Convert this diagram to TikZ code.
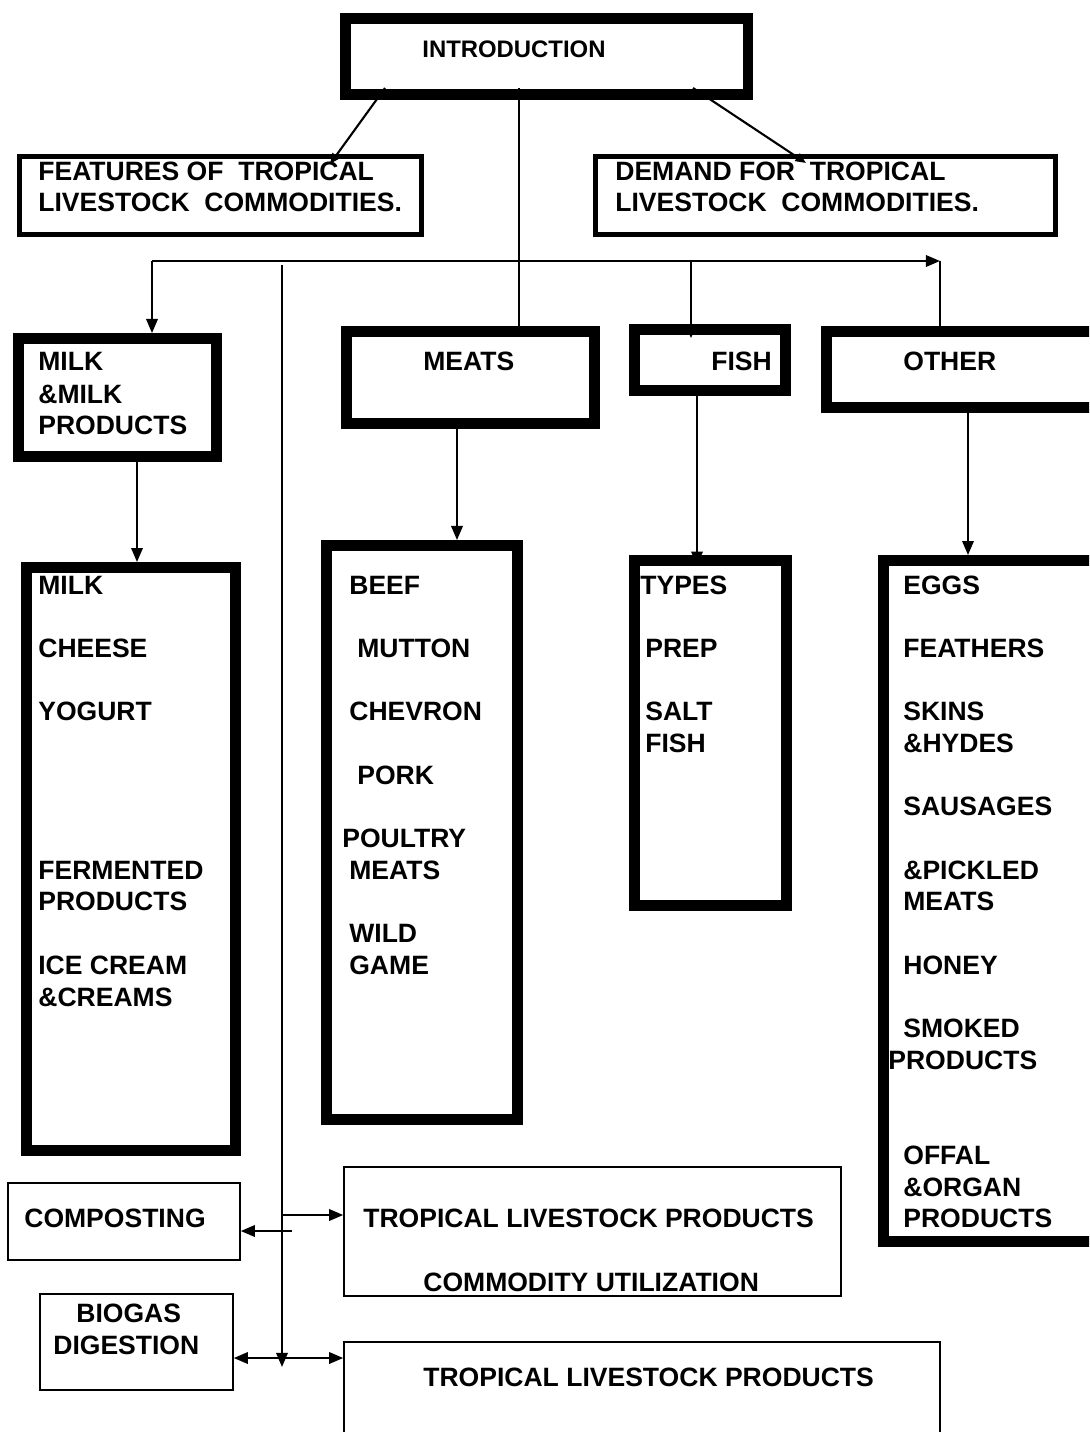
\documentclass[tikz,border=0pt]{standalone}
\usepackage{fontspec}
\setmainfont{Liberation Sans}
\usetikzlibrary{arrows.meta,fit}

\tikzset{
  thickbox/.style={draw, line width=6.2pt, inner sep=0pt},
  midbox/.style={draw, line width=2.8pt, inner sep=0pt},
  thinbox/.style={draw, line width=0.9pt, inner sep=0pt},
  txt/.style={anchor=base west, inner sep=0pt, font=\bfseries\fontsize{15.1}{18}\selectfont},
  link/.style={line width=1.2pt},
}

\begin{document}
\begin{tikzpicture}[x=0.02cm, y=-0.02cm, >={Triangle[length=8pt,width=6.5pt]}]
\useasboundingbox (0,0) rectangle (1089,1432);
\clip (0,0) rectangle (1089,1432);

% boxes
\node (intro)     [thickbox, fit={(345.5,18.5) (748,94.5)}] {};
\node (feat)      [midbox,   fit={(19.5,156.5) (421.5,234.5)}] {};
\node (demand)    [midbox,   fit={(595.5,156.5) (1055.5,234.5)}] {};
\node (milk)      [thickbox, fit={(18.5,338.5) (216.5,456.5)}] {};
\node (meats)     [thickbox, fit={(346.5,331.5) (594.5,423.5)}] {};
\node (fish)      [thickbox, fit={(634.5,329.5) (785.5,390.5)}] {};
\node (other)     [thickbox, fit={(826.5,331.5) (1110,407.5)}] {};
\node (milklist)  [thickbox, fit={(26.5,567.5) (235.5,1150.5)}] {};
\node (meatslist) [thickbox, fit={(326.5,545.5) (517.5,1119.5)}] {};
\node (fishlist)  [thickbox, fit={(634.5,560.5) (786.5,905.5)}] {};
\node (otherlist) [thickbox, fit={(883.5,560.5) (1110,1241.5)}] {};
\node (compost)   [thinbox,  fit={(8,1183) (240,1260)}] {};
\node (tlpcu)     [thinbox,  fit={(344,1167) (841,1296)}] {};
\node (biogas)    [thinbox,  fit={(40,1294) (233,1390)}] {};
\node (tlp)       [thinbox,  fit={(344,1342) (940,1450)}] {};

% texts
\node (t-intro) at (422,58) [txt, font=\bfseries\fontsize{13.6}{16}\selectfont] {INTRODUCTION};
\node (t-feat1) at (38,181) [txt] {FEATURES OF~ TROPICAL};
\node (t-feat2) at (38,212) [txt] {LIVESTOCK~ COMMODITIES.};
\node (t-dem1) at (615,181) [txt] {DEMAND FOR~ TROPICAL};
\node (t-dem2) at (615,212) [txt] {LIVESTOCK~ COMMODITIES.};
\node (t-milk1) at (38,371) [txt] {MILK};
\node (t-milk2) at (38,403) [txt] {\&MILK};
\node (t-milk3) at (38,435) [txt] {PRODUCTS};
\node (t-meats) at (423,371) [txt] {MEATS};
\node (t-fish) at (711,371) [txt] {FISH};
\node (t-other) at (903,371) [txt] {OTHER};

\foreach \x/\y/\t [count=\i] in {38/594/MILK, 38/657/CHEESE, 38/720/YOGURT,
    38/879/FERMENTED, 38/910/PRODUCTS, 38/974/ICE CREAM, 38/1006/\&CREAMS}
  \node (ml\i) at (\x,\y) [txt] {\t};
\foreach \x/\y/\t [count=\i] in {349/594/BEEF, 357/657/MUTTON, 349/720/CHEVRON,
    357/784/PORK, 342/847/POULTRY, 349/879/MEATS, 349/942/WILD, 349/974/GAME}
  \node (mt\i) at (\x,\y) [txt] {\t};
\foreach \x/\y/\t [count=\i] in {640/594/TYPES, 645/657/PREP, 645/720/SALT, 645/752/FISH}
  \node (fs\i) at (\x,\y) [txt] {\t};
\foreach \x/\y/\t [count=\i] in {903/594/EGGS, 903/657/FEATHERS, 903/720/SKINS,
    903/752/\&HYDES, 903/815/SAUSAGES, 903/879/\&PICKLED, 903/910/MEATS,
    903/974/HONEY, 903/1037/SMOKED, 888/1069/PRODUCTS, 903/1164/OFFAL,
    903/1196/\&ORGAN, 903/1227/PRODUCTS}
  \node (ot\i) at (\x,\y) [txt] {\t};

\node (t-comp) at (24,1227) [txt] {COMPOSTING};
\node (t-tlpcu1) at (363,1227) [txt] {TROPICAL LIVESTOCK PRODUCTS};
\node (t-tlpcu2) at (423,1291) [txt] {COMMODITY UTILIZATION};
\node (t-bio1) at (76,1322) [txt] {BIOGAS};
\node (t-bio2) at (53,1354) [txt] {DIGESTION};
\node (t-tlp) at (423,1386) [txt] {TROPICAL LIVESTOCK PRODUCTS};

% connectors
\coordinate (i-l) at (385,88);
\coordinate (i-m) at (519,88);
\coordinate (i-r) at (693,88);
\coordinate (f-in) at (330,164);
\coordinate (d-in) at (806,163);
\coordinate (bus-l) at (152,261);
\coordinate (bus-f) at (691,261);
\coordinate (bus-r) at (940,261);
\coordinate (trunk) at (282,265);
\coordinate (trunk-end) at (282,1367);
\coordinate (hub) at (282,1358);

\draw [link, -{Triangle[length=6pt,width=5pt]}] (i-l) -- (f-in);
\draw [link, -{Triangle[length=6pt,width=5pt]}] (i-r) -- (d-in);
\draw [link] (i-m) -- (meats.north -| i-m);
\draw [link, ->] (bus-l) -- (bus-r);
\draw [link, ->] (bus-l) -- (milk.north -| bus-l);
\draw [link, ->] (bus-f) -- ([yshift=-8pt]fish.north -| bus-f);
\draw [link] (bus-r) -- (other.north -| bus-r);
\draw [link, ->] (milk.south -| 137,0) -- (milklist.north -| 137,0);
\draw [link, ->] (meats.south -| 457,0) -- (meatslist.north -| 457,0);
\draw [link, ->] (fish.south -| 697,0) -- ([yshift=-6pt]fishlist.north -| 697,0);
\draw [link, ->] (other.south -| 968,0) -- (otherlist.north -| 968,0);
\draw [link, ->] (trunk) -- (trunk-end);
\draw [link, ->] (trunk |- 0,1215) -- (tlpcu.west |- 0,1215);
\draw [link, ->] (292,1231) -- (compost.east |- 0,1231);
\draw [link, <->] (biogas.east |- hub) -- (tlp.west |- hub);
\end{tikzpicture}
\end{document}
